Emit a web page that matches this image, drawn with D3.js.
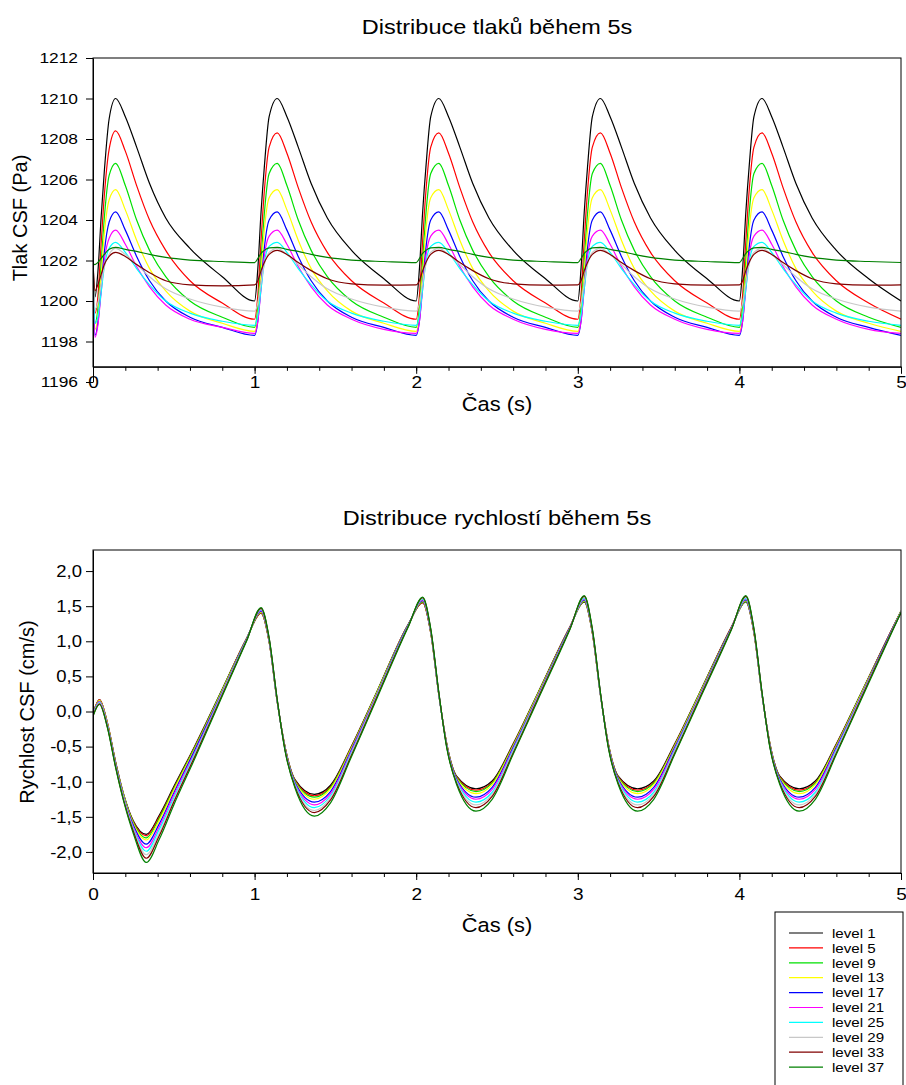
<!DOCTYPE html>
<html>
<head>
<meta charset="utf-8">
<script src="https://cdn.jsdelivr.net/npm/d3@7"></script>
<style>
  body { margin: 0; background: #fff; }
  svg text { font-family: "Liberation Sans", Arial, sans-serif; fill: #000; }
</style>
</head>
<body>
<svg id="chart" width="906" height="1085"></svg>
<script>
// ── Data ──
const levelNames  = ["level 1", "level 5", "level 9", "level 13", "level 17",
                     "level 21", "level 25", "level 29", "level 33", "level 37"];
const levelColors = ["#000000", "#ff0000", "#00e000", "#ffff00", "#0000ff",
                     "#ff00ff", "#00ffff", "#c8c8c8", "#800000", "#008000"];

const timeTicks     = [0, 1, 2, 3, 4, 5];
const pressureTicks = [1196, 1198, 1200, 1202, 1204, 1206, 1208, 1210, 1212];
const velocityTicks = [-2, -1.5, -1, -0.5, 0, 0.5, 1, 1.5, 2];

// pressure (Pa), sampled at these times (s)
const tPressure = [
  0, 0.012, 0.03, 0.05, 0.07, 0.10, 0.14, 0.20, 0.27, 0.35, 0.45, 0.60, 0.80,
  1.00, 1.02, 1.04, 1.06, 1.09, 1.14, 1.20, 1.27, 1.35, 1.45, 1.60, 1.80,
  2.00, 2.02, 2.04, 2.06, 2.09, 2.14, 2.20, 2.27, 2.35, 2.45, 2.60, 2.80,
  3.00, 3.02, 3.04, 3.06, 3.09, 3.14, 3.20, 3.27, 3.35, 3.45, 3.60, 3.80,
  4.00, 4.02, 4.04, 4.06, 4.09, 4.14, 4.20, 4.27, 4.35, 4.45, 4.60, 4.80,
  5.00
];
const pLevel1 = [
  1202.0, 1200.2, 1201.4, 1204.1, 1206.4, 1209.0, 1210.0, 1209.1, 1207.6, 1205.8, 1204.1, 1202.6, 1201.2,
  1200.0, 1201.6, 1204.4, 1206.6, 1209.1, 1210.0, 1209.1, 1207.6, 1205.8, 1204.1, 1202.5, 1201.1,
  1200.0, 1201.6, 1204.4, 1206.6, 1209.1, 1210.0, 1209.1, 1207.6, 1205.8, 1204.1, 1202.5, 1201.1,
  1200.0, 1201.6, 1204.4, 1206.6, 1209.1, 1210.0, 1209.1, 1207.6, 1205.8, 1204.1, 1202.5, 1201.1,
  1200.0, 1201.6, 1204.4, 1206.6, 1209.1, 1210.0, 1209.1, 1207.6, 1205.8, 1204.1, 1202.5, 1201.1,
  1200.0
];
const pLevel5 = [
  1202.0, 1199.4, 1200.2, 1202.8, 1205.2, 1207.5, 1208.4, 1207.4, 1205.7, 1204.0, 1202.5, 1201.0, 1199.9,
  1199.1, 1200.3, 1203.0, 1205.4, 1207.6, 1208.3, 1207.3, 1205.6, 1203.9, 1202.4, 1201.0, 1199.9,
  1199.1, 1200.3, 1203.0, 1205.4, 1207.6, 1208.3, 1207.3, 1205.6, 1203.9, 1202.4, 1201.0, 1199.9,
  1199.1, 1200.3, 1203.0, 1205.4, 1207.6, 1208.3, 1207.3, 1205.6, 1203.9, 1202.4, 1201.0, 1199.9,
  1199.1, 1200.3, 1203.0, 1205.4, 1207.6, 1208.3, 1207.3, 1205.6, 1203.9, 1202.4, 1201.0, 1199.9,
  1199.1
];
const pLevel9 = [
  1202.0, 1198.9, 1199.6, 1201.8, 1204.1, 1206.2, 1206.8, 1205.7, 1204.0, 1202.5, 1201.2, 1200.0, 1199.2,
  1198.7, 1199.7, 1202.0, 1204.3, 1206.3, 1206.8, 1205.7, 1204.0, 1202.5, 1201.2, 1200.0, 1199.2,
  1198.7, 1199.7, 1202.0, 1204.3, 1206.3, 1206.8, 1205.7, 1204.0, 1202.5, 1201.2, 1200.0, 1199.2,
  1198.7, 1199.7, 1202.0, 1204.3, 1206.3, 1206.8, 1205.7, 1204.0, 1202.5, 1201.2, 1200.0, 1199.2,
  1198.7, 1199.7, 1202.0, 1204.3, 1206.3, 1206.8, 1205.7, 1204.0, 1202.5, 1201.2, 1200.0, 1199.2,
  1198.7
];
const pLevel13 = [
  1202.0, 1198.6, 1199.2, 1201.2, 1203.3, 1205.0, 1205.5, 1204.5, 1203.0, 1201.6, 1200.5, 1199.5, 1198.9,
  1198.5, 1199.3, 1201.4, 1203.5, 1205.1, 1205.5, 1204.5, 1203.0, 1201.6, 1200.5, 1199.5, 1198.9,
  1198.5, 1199.3, 1201.4, 1203.5, 1205.1, 1205.5, 1204.5, 1203.0, 1201.6, 1200.5, 1199.5, 1198.9,
  1198.5, 1199.3, 1201.4, 1203.5, 1205.1, 1205.5, 1204.5, 1203.0, 1201.6, 1200.5, 1199.5, 1198.9,
  1198.5, 1199.3, 1201.4, 1203.5, 1205.1, 1205.5, 1204.5, 1203.0, 1201.6, 1200.5, 1199.5, 1198.9,
  1198.5
];
const pLevel17 = [
  1202.0, 1198.3, 1198.9, 1200.6, 1202.4, 1203.9, 1204.4, 1203.5, 1202.2, 1201.0, 1200.0, 1199.2, 1198.7,
  1198.3, 1199.0, 1200.8, 1202.6, 1204.0, 1204.4, 1203.5, 1202.2, 1201.0, 1200.0, 1199.2, 1198.7,
  1198.3, 1199.0, 1200.8, 1202.6, 1204.0, 1204.4, 1203.5, 1202.2, 1201.0, 1200.0, 1199.2, 1198.7,
  1198.3, 1199.0, 1200.8, 1202.6, 1204.0, 1204.4, 1203.5, 1202.2, 1201.0, 1200.0, 1199.2, 1198.7,
  1198.3, 1199.0, 1200.8, 1202.6, 1204.0, 1204.4, 1203.5, 1202.2, 1201.0, 1200.0, 1199.2, 1198.7,
  1198.3
];
const pLevel21 = [
  1202.0, 1198.2, 1198.8, 1200.4, 1202.0, 1203.1, 1203.5, 1202.8, 1201.7, 1200.7, 1199.8, 1199.1, 1198.7,
  1198.4, 1199.0, 1200.6, 1202.2, 1203.2, 1203.5, 1202.8, 1201.7, 1200.7, 1199.8, 1199.1, 1198.6,
  1198.4, 1199.0, 1200.6, 1202.2, 1203.2, 1203.5, 1202.8, 1201.7, 1200.7, 1199.8, 1199.1, 1198.6,
  1198.4, 1199.0, 1200.6, 1202.2, 1203.2, 1203.5, 1202.8, 1201.7, 1200.7, 1199.8, 1199.1, 1198.6,
  1198.4, 1199.0, 1200.6, 1202.2, 1203.2, 1203.5, 1202.8, 1201.7, 1200.7, 1199.8, 1199.1, 1198.6,
  1198.4
];
const pLevel25 = [
  1202.0, 1198.9, 1199.2, 1200.4, 1201.7, 1202.6, 1202.9, 1202.4, 1201.6, 1200.8, 1200.0, 1199.4, 1199.0,
  1198.8, 1199.3, 1200.6, 1201.9, 1202.7, 1202.9, 1202.4, 1201.6, 1200.8, 1200.0, 1199.4, 1199.0,
  1198.8, 1199.3, 1200.6, 1201.9, 1202.7, 1202.9, 1202.4, 1201.6, 1200.8, 1200.0, 1199.4, 1199.0,
  1198.8, 1199.3, 1200.6, 1201.9, 1202.7, 1202.9, 1202.4, 1201.6, 1200.8, 1200.0, 1199.4, 1199.0,
  1198.8, 1199.3, 1200.6, 1201.9, 1202.7, 1202.9, 1202.4, 1201.6, 1200.8, 1200.0, 1199.4, 1199.0,
  1198.8
];
const pLevel29 = [
  1202.0, 1199.6, 1199.9, 1200.8, 1201.7, 1202.3, 1202.6, 1202.3, 1201.8, 1201.2, 1200.6, 1200.1, 1199.7,
  1199.5, 1199.9, 1200.9, 1201.8, 1202.4, 1202.6, 1202.3, 1201.8, 1201.2, 1200.6, 1200.1, 1199.7,
  1199.5, 1199.9, 1200.9, 1201.8, 1202.4, 1202.6, 1202.3, 1201.8, 1201.2, 1200.6, 1200.1, 1199.7,
  1199.5, 1199.9, 1200.9, 1201.8, 1202.4, 1202.6, 1202.3, 1201.8, 1201.2, 1200.6, 1200.1, 1199.7,
  1199.5, 1199.9, 1200.9, 1201.8, 1202.4, 1202.6, 1202.3, 1201.8, 1201.2, 1200.6, 1200.1, 1199.7,
  1199.5
];
const pLevel33 = [
  1202.0, 1200.5, 1200.8, 1201.3, 1201.8, 1202.2, 1202.4, 1202.2, 1201.8, 1201.4, 1201.0, 1200.8, 1200.75,
  1200.8, 1201.0, 1201.5, 1201.9, 1202.3, 1202.5, 1202.3, 1201.9, 1201.5, 1201.1, 1200.85, 1200.78,
  1200.8, 1201.0, 1201.5, 1201.9, 1202.3, 1202.5, 1202.3, 1201.9, 1201.5, 1201.1, 1200.85, 1200.78,
  1200.8, 1201.0, 1201.5, 1201.9, 1202.3, 1202.5, 1202.3, 1201.9, 1201.5, 1201.1, 1200.85, 1200.78,
  1200.8, 1201.0, 1201.5, 1201.9, 1202.3, 1202.5, 1202.3, 1201.9, 1201.5, 1201.1, 1200.85, 1200.78,
  1200.8
];
const pLevel37 = [
  1201.85, 1201.8, 1201.9, 1202.1, 1202.3, 1202.55, 1202.65, 1202.55, 1202.45, 1202.3, 1202.15, 1202.02, 1201.95,
  1201.9, 1202.1, 1202.35, 1202.5, 1202.62, 1202.65, 1202.55, 1202.45, 1202.3, 1202.15, 1202.02, 1201.95,
  1201.9, 1202.1, 1202.35, 1202.5, 1202.62, 1202.65, 1202.55, 1202.45, 1202.3, 1202.15, 1202.02, 1201.95,
  1201.9, 1202.1, 1202.35, 1202.5, 1202.62, 1202.65, 1202.55, 1202.45, 1202.3, 1202.15, 1202.02, 1201.95,
  1201.9, 1202.1, 1202.35, 1202.5, 1202.62, 1202.65, 1202.55, 1202.45, 1202.3, 1202.15, 1202.02, 1201.95,
  1201.9
];
const pressure = [pLevel1, pLevel5, pLevel9, pLevel13, pLevel17,
                  pLevel21, pLevel25, pLevel29, pLevel33, pLevel37];

// velocity (cm/s), sampled at these times (s)
const tVelocity = [
  0, 0.04, 0.09, 0.14, 0.19, 0.25, 0.33, 0.41, 0.50, 0.63, 0.80, 0.95,
  1.04, 1.09, 1.14, 1.19, 1.25, 1.37, 1.47, 1.60, 1.75, 1.95,
  2.04, 2.09, 2.14, 2.19, 2.25, 2.37, 2.47, 2.60, 2.75, 2.95,
  3.04, 3.09, 3.14, 3.19, 3.25, 3.37, 3.47, 3.60, 3.75, 3.95,
  4.04, 4.09, 4.14, 4.19, 4.25, 4.37, 4.47, 4.60, 4.75, 4.95,
  5.00
];
const vLevel1 = [
  -0.03, 0.17, -0.17, -0.72, -1.18, -1.56, -1.75, -1.48, -1.07, -0.49, 0.32, 1.04,
  1.40, 0.99, 0.14, -0.52, -0.97, -1.18, -1.05, -0.49, 0.25, 1.24,
  1.55, 1.12, 0.24, -0.47, -0.92, -1.10, -0.99, -0.46, 0.25, 1.20,
  1.56, 1.12, 0.24, -0.47, -0.92, -1.10, -0.99, -0.46, 0.25, 1.20,
  1.56, 1.12, 0.24, -0.47, -0.92, -1.10, -0.99, -0.46, 0.25, 1.20,
  1.43
];
const vLevel5 = [
  -0.03, 0.17, -0.17, -0.72, -1.19, -1.57, -1.77, -1.50, -1.09, -0.50, 0.31, 1.04,
  1.40, 0.99, 0.14, -0.52, -0.98, -1.20, -1.07, -0.50, 0.24, 1.24,
  1.55, 1.12, 0.24, -0.47, -0.93, -1.12, -1.01, -0.47, 0.24, 1.20,
  1.57, 1.12, 0.24, -0.47, -0.93, -1.12, -1.01, -0.47, 0.24, 1.20,
  1.57, 1.12, 0.24, -0.47, -0.93, -1.12, -1.01, -0.47, 0.24, 1.20,
  1.43
];
const vLevel9 = [
  -0.04, 0.16, -0.18, -0.73, -1.19, -1.58, -1.80, -1.52, -1.10, -0.51, 0.31, 1.03,
  1.41, 1.00, 0.14, -0.53, -0.99, -1.22, -1.08, -0.51, 0.24, 1.23,
  1.56, 1.13, 0.24, -0.48, -0.94, -1.14, -1.02, -0.48, 0.24, 1.19,
  1.57, 1.13, 0.24, -0.48, -0.94, -1.14, -1.02, -0.48, 0.24, 1.19,
  1.57, 1.13, 0.24, -0.48, -0.94, -1.14, -1.02, -0.48, 0.24, 1.19,
  1.43
];
const vLevel13 = [
  -0.04, 0.16, -0.18, -0.74, -1.20, -1.60, -1.83, -1.55, -1.12, -0.53, 0.30, 1.03,
  1.42, 1.00, 0.15, -0.53, -1.00, -1.25, -1.10, -0.52, 0.23, 1.23,
  1.57, 1.13, 0.25, -0.48, -0.95, -1.17, -1.04, -0.49, 0.23, 1.19,
  1.58, 1.13, 0.25, -0.48, -0.95, -1.17, -1.04, -0.49, 0.23, 1.19,
  1.58, 1.13, 0.25, -0.48, -0.95, -1.17, -1.04, -0.49, 0.23, 1.19,
  1.43
];
const vLevel17 = [
  -0.04, 0.14, -0.20, -0.75, -1.22, -1.62, -1.89, -1.60, -1.16, -0.55, 0.28, 1.03,
  1.43, 1.01, 0.15, -0.54, -1.01, -1.29, -1.14, -0.54, 0.21, 1.23,
  1.58, 1.14, 0.25, -0.49, -0.96, -1.22, -1.08, -0.51, 0.21, 1.19,
  1.59, 1.14, 0.25, -0.49, -0.96, -1.22, -1.08, -0.51, 0.21, 1.19,
  1.59, 1.14, 0.25, -0.49, -0.96, -1.22, -1.08, -0.51, 0.21, 1.19,
  1.42
];
const vLevel21 = [
  -0.05, 0.14, -0.20, -0.76, -1.23, -1.65, -1.94, -1.64, -1.19, -0.58, 0.27, 1.02,
  1.44, 1.02, 0.15, -0.55, -1.03, -1.33, -1.17, -0.56, 0.20, 1.22,
  1.59, 1.15, 0.25, -0.50, -0.98, -1.25, -1.11, -0.53, 0.20, 1.18,
  1.60, 1.15, 0.25, -0.50, -0.98, -1.25, -1.11, -0.53, 0.20, 1.18,
  1.60, 1.15, 0.25, -0.50, -0.98, -1.25, -1.11, -0.53, 0.20, 1.18,
  1.42
];
const vLevel25 = [
  -0.05, 0.13, -0.21, -0.77, -1.24, -1.67, -1.99, -1.68, -1.23, -0.60, 0.26, 1.02,
  1.45, 1.03, 0.16, -0.56, -1.04, -1.37, -1.20, -0.58, 0.19, 1.22,
  1.60, 1.16, 0.26, -0.51, -0.99, -1.29, -1.15, -0.55, 0.19, 1.18,
  1.61, 1.16, 0.26, -0.51, -0.99, -1.29, -1.15, -0.55, 0.19, 1.18,
  1.61, 1.16, 0.26, -0.51, -0.99, -1.29, -1.15, -0.55, 0.19, 1.18,
  1.42
];
const vLevel29 = [
  -0.06, 0.12, -0.22, -0.78, -1.25, -1.69, -2.04, -1.73, -1.26, -0.62, 0.25, 1.01,
  1.46, 1.03, 0.16, -0.56, -1.06, -1.41, -1.23, -0.60, 0.18, 1.21,
  1.61, 1.16, 0.26, -0.51, -1.01, -1.33, -1.18, -0.57, 0.18, 1.17,
  1.63, 1.16, 0.26, -0.51, -1.01, -1.33, -1.18, -0.57, 0.18, 1.17,
  1.63, 1.16, 0.26, -0.51, -1.01, -1.33, -1.18, -0.57, 0.18, 1.17,
  1.42
];
const vLevel33 = [
  -0.06, 0.11, -0.23, -0.79, -1.27, -1.71, -2.09, -1.77, -1.29, -0.64, 0.24, 1.01,
  1.47, 1.04, 0.17, -0.57, -1.07, -1.44, -1.26, -0.62, 0.17, 1.21,
  1.62, 1.17, 0.27, -0.52, -1.02, -1.37, -1.21, -0.59, 0.17, 1.17,
  1.64, 1.17, 0.27, -0.52, -1.02, -1.37, -1.21, -0.59, 0.17, 1.17,
  1.64, 1.17, 0.27, -0.52, -1.02, -1.37, -1.21, -0.59, 0.17, 1.17,
  1.41
];
const vLevel37 = [
  -0.07, 0.10, -0.24, -0.80, -1.28, -1.74, -2.15, -1.82, -1.33, -0.67, 0.22, 1.00,
  1.48, 1.05, 0.17, -0.58, -1.09, -1.49, -1.30, -0.64, 0.15, 1.20,
  1.63, 1.18, 0.27, -0.53, -1.04, -1.42, -1.25, -0.61, 0.15, 1.16,
  1.65, 1.18, 0.27, -0.53, -1.04, -1.42, -1.25, -0.61, 0.15, 1.16,
  1.65, 1.18, 0.27, -0.53, -1.04, -1.42, -1.25, -0.61, 0.15, 1.16,
  1.41
];
const velocity = [vLevel1, vLevel5, vLevel9, vLevel13, vLevel17,
                  vLevel21, vLevel25, vLevel29, vLevel33, vLevel37];

// ── Layout ──
const X_LEFT  = 93;
const X_RIGHT = 901;
const SX = 1.12;   // horizontal text stretch, the source picture is wide

const svg = d3.select("#chart");
const x = d3.scaleLinear().domain([0, 5]).range([X_LEFT, X_RIGHT]);
const minorTicks = x.ticks(25);

const fmtComma = v => v.toFixed(1).replace(".", ",");

function hText(parent, cx, cy, size, str) {
  return parent.append("text")
    .attr("transform", `translate(${cx},${cy}) scale(${SX},1)`)
    .attr("text-anchor", "middle")
    .style("font-size", size)
    .text(str);
}

function drawPanel(o) {
  const g = svg.append("g").attr("class", o.id);

  svg.append("clipPath").attr("id", o.id + "-clip")
    .append("rect")
    .attr("x", X_LEFT).attr("y", o.top)
    .attr("width", X_RIGHT - X_LEFT).attr("height", o.bottom - o.top);

  // series
  const line = d3.line()
    .x((_, i) => x(o.times[i]))
    .y(d => o.y(d))
    .curve(d3.curveMonotoneX);

  g.append("g")
    .attr("clip-path", `url(#${o.id}-clip)`)
    .selectAll("path")
    .data(o.series)
    .join("path")
    .attr("d", line)
    .attr("fill", "none")
    .attr("stroke", (_, i) => levelColors[i])
    .attr("stroke-width", 1.2);

  // frame
  g.append("rect")
    .attr("x", X_LEFT).attr("y", o.top)
    .attr("width", X_RIGHT - X_LEFT).attr("height", o.bottom - o.top)
    .attr("fill", "none").attr("stroke", "#000").attr("stroke-width", 1);

  // y axis
  const yAx = g.append("g")
    .attr("transform", `translate(${X_LEFT},0)`)
    .call(d3.axisLeft(o.y).tickValues(o.yTicks).tickFormat(o.fmt)
      .tickSize(7).tickPadding(o.yPad).tickSizeOuter(0));
  yAx.selectAll("text")
    .attr("x", 0)
    .attr("transform", `translate(${-(7 + o.yPad)},0) scale(${SX},1)`)
    .style("font-size", o.yFont);

  // x axis (major + minor)
  const xAx = g.append("g")
    .attr("transform", `translate(0,${o.bottom})`)
    .call(d3.axisBottom(x).tickValues(timeTicks).tickFormat(d3.format("d"))
      .tickSize(7).tickPadding(o.xPad).tickSizeOuter(0));
  xAx.selectAll("text")
    .attr("transform", `scale(${SX},1)`)
    .style("font-size", "17px");
  g.append("g")
    .attr("transform", `translate(0,${o.bottom})`)
    .call(d3.axisBottom(x).tickValues(minorTicks).tickFormat("")
      .tickSize(4).tickSizeOuter(0))
    .select(".domain").remove();

  // titles
  hText(g, 497, o.titleY, "21px", o.title);
  hText(g, 497, o.xLabelY, "19.5px", "Čas (s)");

  g.append("text")
    .attr("transform", `translate(${o.yLabelX},${o.yLabelY}) rotate(-90)`)
    .attr("text-anchor", "middle")
    .attr("dy", "0.35em")
    .style("font-size", "20px")
    .text(o.yLabel);
}

// ── Top: pressure ──
const yP = d3.scaleLinear().domain([1196, 1212]).range([382, 58]);
drawPanel({
  id: "pressure",
  times: tPressure, series: pressure,
  y: yP, yTicks: pressureTicks, fmt: d3.format("d"), yPad: 8, yFont: "15.5px",
  top: 58, bottom: yP(1196.75), xPad: 2,
  title: "Distribuce tlaků během 5s", titleY: 34,
  xLabelY: 411,
  yLabel: "Tlak CSF (Pa)", yLabelX: 20, yLabelY: 218
});

// ── Bottom: velocity ──
const yV = d3.scaleLinear().domain([-2.3, 2.3]).range([873, 550]);
drawPanel({
  id: "velocity",
  times: tVelocity, series: velocity,
  y: yV, yTicks: velocityTicks, fmt: fmtComma, yPad: 4, yFont: "16.5px",
  top: 550, bottom: 873, xPad: 8,
  title: "Distribuce rychlostí během 5s", titleY: 525,
  xLabelY: 932,
  yLabel: "Rychlost CSF (cm/s)", yLabelX: 27, yLabelY: 712
});

// ── Legend ──
const legend = svg.append("g").attr("class", "legend");
legend.append("rect")
  .attr("x", 775).attr("y", 912).attr("width", 128).attr("height", 180)
  .attr("fill", "#fff").attr("stroke", "#000");

const item = legend.selectAll("g.item")
  .data(levelNames)
  .join("g")
  .attr("class", "item")
  .attr("transform", (_, i) => `translate(789,${933 + i * 14.9})`);

item.append("line")
  .attr("x1", 0).attr("x2", 34)
  .attr("stroke", (_, i) => levelColors[i])
  .attr("stroke-width", 1.2);

item.append("text")
  .attr("transform", `translate(43,0) scale(${SX},1)`)
  .attr("dy", "0.35em")
  .style("font-size", "13.5px")
  .text(d => d);
</script>
</body>
</html>
